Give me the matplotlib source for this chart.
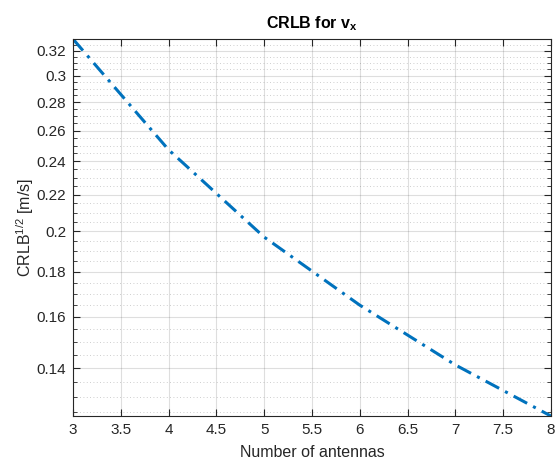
import numpy as np
import matplotlib.pyplot as plt
from matplotlib.ticker import FixedLocator, FuncFormatter, NullLocator

plt.rcParams['font.family'] = ['Liberation Sans', 'DejaVu Sans']
plt.rcParams['mathtext.fontset'] = 'custom'
plt.rcParams['mathtext.rm'] = 'Liberation Sans'
plt.rcParams['mathtext.it'] = 'Liberation Sans:italic'
plt.rcParams['mathtext.bf'] = 'Liberation Sans:bold'

# CRLB (sqrt) for v_x vs. number of antennas
n_antennas = [3, 4, 5, 6, 7, 8]
crlb_vx = [0.3300, 0.2473, 0.1970, 0.1650, 0.1412, 0.1236]

y_major = [0.14, 0.16, 0.18, 0.20, 0.22, 0.24, 0.26, 0.28, 0.30, 0.32]
y_minor = [0.125, 0.13, 0.135, 0.145, 0.15, 0.155, 0.165, 0.17, 0.175,
           0.185, 0.19, 0.195, 0.205, 0.21, 0.215, 0.225, 0.23, 0.235,
           0.245, 0.25, 0.255, 0.265, 0.27, 0.275, 0.285, 0.29, 0.295,
           0.305, 0.31, 0.315, 0.325]
x_ticks = [3, 3.5, 4, 4.5, 5, 5.5, 6, 6.5, 7, 7.5, 8]

axcol = '#262626'
fig = plt.figure(figsize=(5.57, 4.63), dpi=100)
ax = fig.add_axes([0.131, 0.1015, 0.858, 0.8143])

ax.semilogy(n_antennas, crlb_vx, color='#0072BD', linestyle=(0, (5, 2.2, 1, 2.2)),
            linewidth=2.2)

ax.set_xlim(min(n_antennas), max(n_antennas))
ax.set_ylim(min(crlb_vx), max(crlb_vx))

ax.xaxis.set_major_locator(FixedLocator(x_ticks))
ax.xaxis.set_minor_locator(NullLocator())
ax.xaxis.set_major_formatter(FuncFormatter(lambda v, p: '%g' % v))
ax.yaxis.set_major_locator(FixedLocator(y_major))
ax.yaxis.set_minor_locator(FixedLocator(y_minor))
ax.yaxis.set_major_formatter(FuncFormatter(lambda v, p: '%g' % v))
ax.yaxis.set_minor_formatter(FuncFormatter(lambda v, p: ''))

ax.grid(True, which='major', color='#262626', alpha=0.15, linewidth=0.8)
ax.grid(True, which='minor', axis='y', color='#262626', alpha=0.3,
        linewidth=0.6, linestyle=(0, (1, 3)))
ax.set_axisbelow(True)

ax.tick_params(which='both', direction='in', top=True, right=True,
               colors=axcol, labelcolor=axcol, labelsize=11)
ax.tick_params(which='major', length=5, width=0.8, pad=5)
ax.tick_params(which='minor', length=3, width=0.6)
for s in ax.spines.values():
    s.set_color(axcol)
    s.set_linewidth(0.8)

ax.set_title(r'CRLB for v$_{\mathbf{x}}$', fontsize=11.5, fontweight='bold',
             color='black', pad=8)
ax.set_xlabel('Number of antennas', fontsize=11.5, color=axcol, labelpad=6)
ax.set_ylabel(r'CRLB$^{\mathit{1/2}}$ [m/s]', fontsize=11.5, color=axcol,
              labelpad=0)

fig.savefig('out.png', dpi=100)
